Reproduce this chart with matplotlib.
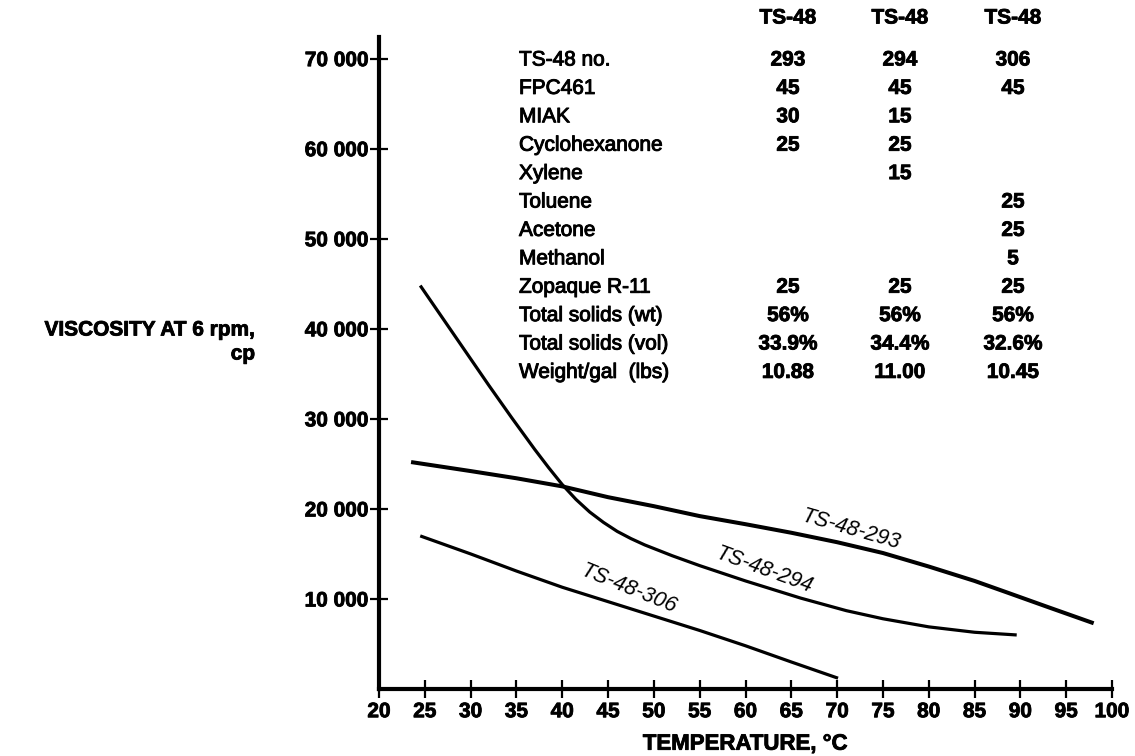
import matplotlib
matplotlib.use("Agg")
import matplotlib.pyplot as plt
import matplotlib.patheffects as pe

plt.rcParams['font.family'] = ['Liberation Sans', 'DejaVu Sans']

# ---- data ----
x_293 = [23.5, 30, 35, 40, 45, 50, 55, 60, 65, 70, 75, 80, 85, 88.6, 93, 98]
y_293 = [25200, 24200, 23400, 22500, 21300, 20300, 19200, 18300, 17350, 16300, 15100, 13600, 12000, 10700, 9100, 7300]

x_294 = [24.5, 27, 29.5, 32, 34.5, 37, 38.5, 40, 41.5, 43, 44.5, 46, 47.5, 49, 52, 55, 60, 66, 71, 75, 80, 85, 89.6]
y_294 = [44800, 41100, 37400, 33700, 30100, 26600, 24600, 22700, 21050, 19650, 18500, 17500, 16700, 16000, 14800, 13700, 12000, 10100, 8700, 7800, 6900, 6300, 6000]

x_306 = [24.5, 30, 35, 40, 45, 50, 55, 60, 65, 70.1]
y_306 = [17000, 15000, 13100, 11300, 9700, 8100, 6500, 4800, 3000, 1200]

curve_names = ["TS-48-293", "TS-48-294", "TS-48-306"]

x_ticks = list(range(20, 101, 5))
y_ticks = [10000, 20000, 30000, 40000, 50000, 60000, 70000]
y_tick_labels = ["10 000", "20 000", "30 000", "40 000", "50 000", "60 000", "70 000"]

table_headers = ["TS-48", "TS-48", "TS-48"]
table_rows = ["TS-48 no.", "FPC461", "MIAK", "Cyclohexanone", "Xylene", "Toluene",
              "Acetone", "Methanol", "Zopaque R-11", "Total solids (wt)",
              "Total solids (vol)", "Weight/gal  (lbs)"]
col_293 = ["293", "45", "30", "25", "", "", "", "", "25", "56%", "33.9%", "10.88"]
col_294 = ["294", "45", "15", "25", "15", "", "", "", "25", "56%", "34.4%", "11.00"]
col_306 = ["306", "45", "", "", "", "25", "25", "5", "25", "56%", "32.6%", "10.45"]

# ---- figure ----
W, H = 1135, 756
fig = plt.figure(figsize=(W / 100, H / 100), dpi=100)
ax_l, ax_r, ax_b, ax_t = 379, 1112, 689, 37
ax = fig.add_axes([ax_l / W, 1 - ax_b / H, (ax_r - ax_l) / W, (ax_b - ax_t) / H])

ax.plot(x_293, y_293, color='black', lw=2.9, solid_capstyle='butt', solid_joinstyle='round')
ax.plot(x_294, y_294, color='black', lw=2.3, solid_capstyle='butt', solid_joinstyle='round')
ax.plot(x_306, y_306, color='black', lw=2.3, solid_capstyle='butt', solid_joinstyle='round')

heavy = [pe.withStroke(linewidth=0.6, foreground='black')]

ax.set_xlim(20, 100)
ax.set_ylim(0, 72400)
for s in ['top', 'right']:
    ax.spines[s].set_visible(False)
for s in ['left', 'bottom']:
    ax.spines[s].set_linewidth(3)
ax.set_xticks(x_ticks)
ax.set_xticklabels([str(v) for v in x_ticks])
ax.set_yticks(y_ticks)
ax.set_yticklabels(y_tick_labels)
ax.tick_params(axis='both', direction='inout', length=13, width=1.6, labelsize=15)
ax.tick_params(axis='x', pad=3)
ax.tick_params(axis='y', pad=1)
for lab in ax.get_xticklabels() + ax.get_yticklabels():
    lab.set_fontweight('bold')
    lab.set_path_effects(heavy)

ax.set_xlabel("TEMPERATURE, °C", fontsize=16, fontweight='bold', labelpad=9, path_effects=heavy)

# curve labels
ax.text(71.5, 17650, curve_names[0], rotation=-16, ha='center', va='center', fontsize=15.5, style='italic')
ax.text(62.0, 13150, curve_names[1], rotation=-20, ha='center', va='center', fontsize=15.5, style='italic')
ax.text(47.2, 11150, curve_names[2], rotation=-22, ha='center', va='center', fontsize=15.5, style='italic')

# y-axis label
fig.text(150 / W, 1 - 330 / H, "VISCOSITY AT 6 rpm,", fontsize=15, fontweight='bold', ha='center', va='center', path_effects=heavy)
fig.text(243 / W, 1 - 354 / H, "cp", fontsize=15, fontweight='bold', ha='center', va='center', path_effects=heavy)

# table
col_x = [788, 900, 1013]
row_label_x = 519
header_y = 18
row_y0, row_dy = 60, 28.4
stroke = [pe.withStroke(linewidth=0.7, foreground='black')]
for cx, h in zip(col_x, table_headers):
    fig.text(cx / W, 1 - header_y / H, h, fontsize=15, fontweight='bold', ha='center', va='center', path_effects=heavy)
for i, name in enumerate(table_rows):
    yy = 1 - (row_y0 + i * row_dy) / H
    fig.text(row_label_x / W, yy, name, fontsize=15, ha='left', va='center', path_effects=stroke)
    for cx, col in zip(col_x, [col_293, col_294, col_306]):
        if col[i]:
            fig.text(cx / W, yy, col[i], fontsize=15, fontweight='bold', ha='center', va='center', path_effects=heavy)

fig.savefig("out.png", dpi=100)
